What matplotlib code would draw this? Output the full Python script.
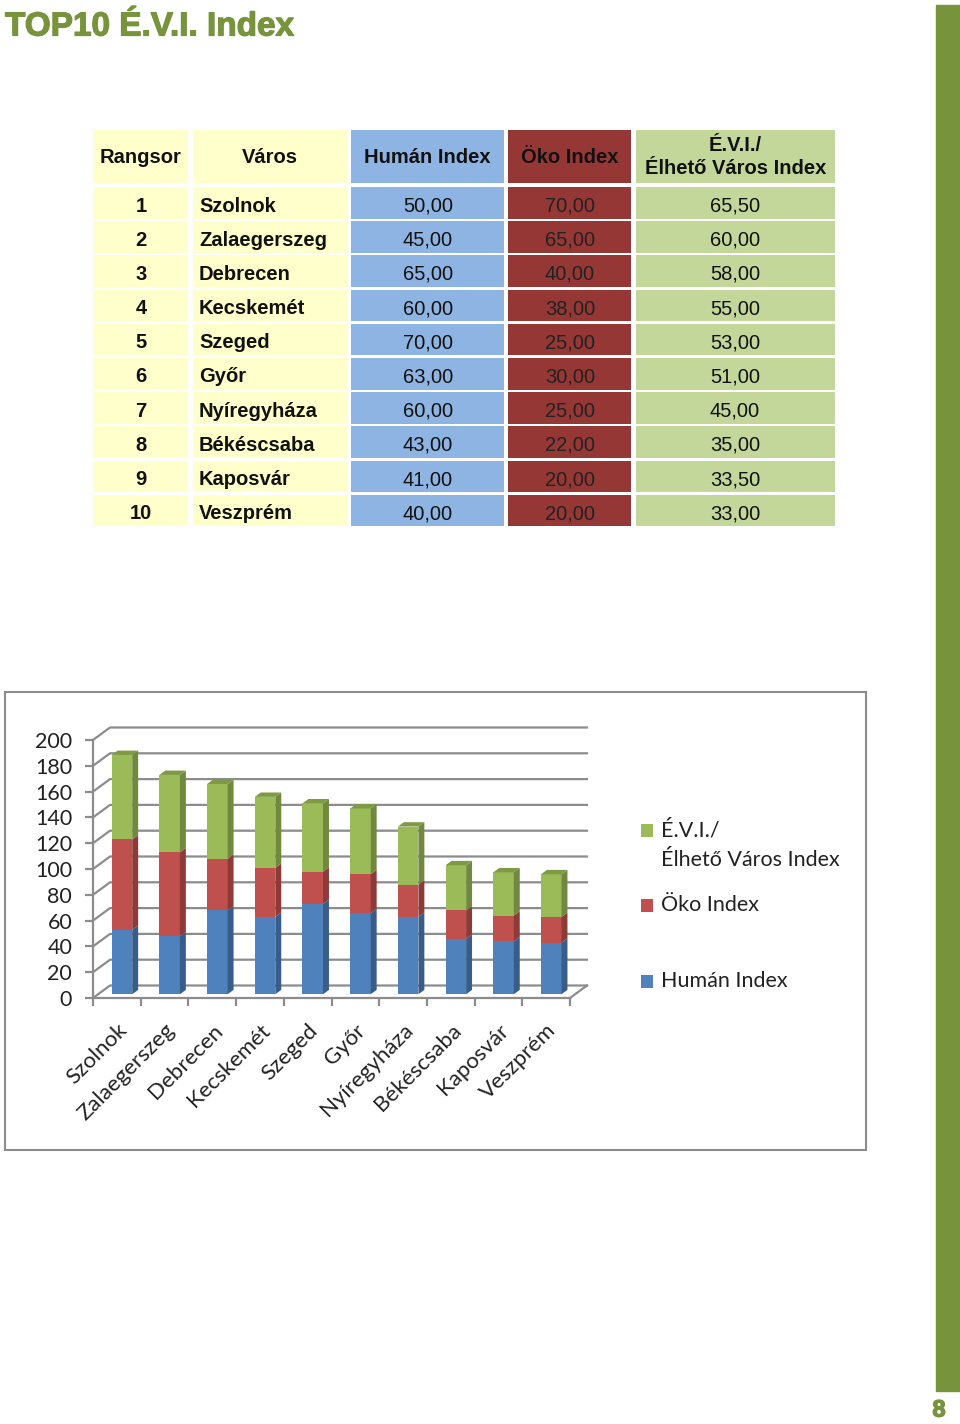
import matplotlib
matplotlib.use("Agg")
import matplotlib.pyplot as plt
import matplotlib.patheffects as pe
from matplotlib.patches import Rectangle, Polygon

# adatok
cities = ["Szolnok", "Zalaegerszeg", "Debrecen", "Kecskemét", "Szeged",
          "Győr", "Nyíregyháza", "Békéscsaba", "Kaposvár", "Veszprém"]
ranks = list(range(1, 11))
human = [50, 45, 65, 60, 70, 63, 60, 43, 41, 40]
oko = [70, 65, 40, 38, 25, 30, 25, 22, 20, 20]
evi = [65.5, 60, 58, 55, 53, 51, 45, 35, 33.5, 33]
headers = ["Rangsor", "Város", "Humán Index", "Öko Index", "É.V.I./\nÉlhető Város Index"]
series_names = ["É.V.I./\nÉlhető Város Index", "Öko Index", "Humán Index"]
y_ticks = list(range(0, 201, 20))

GREEN = "#77933C"
W, H = 960, 1424


def fx(x):
    return x / W


def fy(y):
    return 1 - y / H


fig = plt.figure(figsize=(9.6, 14.24), dpi=100)

# cím, oldalsáv, oldalszám
fig.text(fx(5), fy(27), "TOP10 É.V.I. Index", family="Liberation Sans", weight="bold",
         fontsize=24, color=GREEN, va="center", ha="left",
         path_effects=[pe.withStroke(linewidth=0.9, foreground=GREEN)])
fig.patches.append(Rectangle((fx(936), fy(1391)), fx(24), (1391 - 5) / H,
                             transform=fig.transFigure, color=GREEN, zorder=0))
fig.text(fx(939), fy(1410), "8", family="Liberation Sans", weight="bold",
         fontsize=17, color=GREEN, va="center", ha="center",
         path_effects=[pe.withStroke(linewidth=1.0, foreground=GREEN)])

# táblázat
ax_t = fig.add_axes([fx(93), fy(527), (835 - 93) / W, (527 - 130) / H])
ax_t.set_xlim(93, 835)
ax_t.set_ylim(527, 130)
ax_t.axis("off")

col_x = [(93, 188), (193, 347), (351, 504), (508, 631), (636, 835)]
col_colors = ["#FFFFCC", "#FFFFCC", "#8DB4E2", "#953735", "#C4D79B"]
tfont = dict(family="Liberation Sans", fontsize=14.5)


def fmt(v):
    return f"{v:.2f}".replace(".", ",")


for (x0, x1), c, h in zip(col_x, col_colors, headers):
    ax_t.add_patch(Rectangle((x0, 130), x1 - x0, 53, color=c, lw=0))
    ax_t.text((x0 + x1) / 2, 157, h, ha="center", va="center", weight="bold",
              linespacing=1.3, color="#111111", **tfont)

row_pitch = 34.2
for i in range(len(cities)):
    top = 187 + i * row_pitch
    for (x0, x1), c in zip(col_x, col_colors):
        ax_t.add_patch(Rectangle((x0, top), x1 - x0, 31.6, color=c, lw=0))
    yc = top + 19
    ax_t.text(141, yc, str(ranks[i]), ha="center", va="center", weight="bold", color="#111111", **tfont)
    ax_t.text(199, yc, cities[i], ha="left", va="center", weight="bold", color="#111111", **tfont)
    ax_t.text(428, yc, fmt(human[i]), ha="center", va="center", color="#111111", **tfont)
    ax_t.text(570, yc, fmt(oko[i]), ha="center", va="center", color="#222222", **tfont)
    ax_t.text(735, yc, fmt(evi[i]), ha="center", va="center", color="#111111", **tfont)

# diagram keret
fig.patches.append(Rectangle((fx(5), fy(1150)), (866 - 5) / W, (1150 - 692) / H,
                             transform=fig.transFigure, fill=False, ec="#8C8C8C", lw=1.5))

# 3D hatású oszlopdiagram
X0, Y0 = 93, 998
SLOT = 47.7
S = 1.29
xl = (-0.2, 10.7)
yl = (-8, 214)
ax = fig.add_axes([fx(X0 + xl[0] * SLOT), fy(Y0 - yl[0] * S),
                   (xl[1] - xl[0]) * SLOT / W, (yl[1] - yl[0]) * S / H])
ax.set_xlim(*xl)
ax.set_ylim(*yl)
ax.patch.set_alpha(0)

ddx = 17 / SLOT
ddy = 12.5 / S
grid_c = "#8C8C8C"
n = len(cities)
for v in y_ticks:
    ax.plot([0, ddx, n + ddx], [v, v + ddy, v + ddy], color=grid_c, lw=1.6, zorder=1)
ax.plot([n, n + ddx], [0, ddy], color=grid_c, lw=1.6, zorder=1)

f, d, bw = 0.3, 0.35, 0.43
face = ["#4F81BD", "#C0504D", "#9BBB59"]
side = ["#385D8A", "#8E3A38", "#71893F"]
stack = [human, oko, evi]
bottoms = [0] * n
for k in range(3):
    vals = stack[k]
    centers = [i + 0.5 + f * ddx for i in range(n)]
    bots = [b + f * ddy for b in bottoms]
    ax.bar(centers, vals, bottom=bots, width=bw, color=face[k], lw=0, zorder=3)
    for i in range(n):
        xr = centers[i] + bw / 2
        y0, y1 = bots[i], bots[i] + vals[i]
        ax.add_patch(Polygon([(xr, y0), (xr + d * ddx, y0 + d * ddy),
                              (xr + d * ddx, y1 + d * ddy), (xr, y1)],
                             closed=True, color=side[k], lw=0, zorder=3))
        if k == 2:
            xa = centers[i] - bw / 2
            ax.add_patch(Polygon([(xa, y1), (xr, y1), (xr + d * ddx, y1 + d * ddy),
                                  (xa + d * ddx, y1 + d * ddy)],
                                 closed=True, color="#7E9A45", lw=0, zorder=3))
    bottoms = [b + v for b, v in zip(bottoms, vals)]

for s in ["top", "right"]:
    ax.spines[s].set_visible(False)
ax.spines["left"].set_position(("data", 0))
ax.spines["bottom"].set_position(("data", 0))
ax.spines["left"].set_bounds(0, 200)
ax.spines["bottom"].set_bounds(0, n)
for s in ["left", "bottom"]:
    ax.spines[s].set_color(grid_c)
    ax.spines[s].set_linewidth(1.6)

ax.set_yticks(y_ticks)
ax.set_yticklabels([str(v) for v in y_ticks])
ax.tick_params(axis="y", length=6, width=1.6, color=grid_c, pad=9, labelsize=15.5)
ax.set_xticks(range(n + 1))
ax.set_xticklabels([])
ax.tick_params(axis="x", which="major", length=6, width=1.6, color=grid_c)
ax.set_xticks([i + 0.5 for i in range(n)], minor=True)
ax.set_xticklabels(cities, minor=True)
ax.tick_params(axis="x", which="minor", length=0, pad=16, labelsize=16)
for lab in ax.get_xticklabels(minor=True) + ax.get_yticklabels():
    lab.set_family("Lato")
    lab.set_color("#222222")
for lab in ax.get_xticklabels(minor=True):
    lab.set_rotation(45)
    lab.set_ha("right")
    lab.set_va("top")
    lab.set_rotation_mode("anchor")

# jelmagyarázat
leg_y = [830, 905, 981]
lfont = dict(family="Lato", fontsize=15.5, color="#222222", ha="left", va="center")
for name, c, y in zip(series_names, face[::-1], leg_y):
    fig.patches.append(Rectangle((fx(641), fy(y + 6.5)), 12 / W, 13 / H,
                                 transform=fig.transFigure, color=c, lw=0))
    for j, line in enumerate(name.split("\n")):
        fig.text(fx(661), fy(y + 30 * j), line, **lfont)

fig.savefig("out.png", dpi=100)
